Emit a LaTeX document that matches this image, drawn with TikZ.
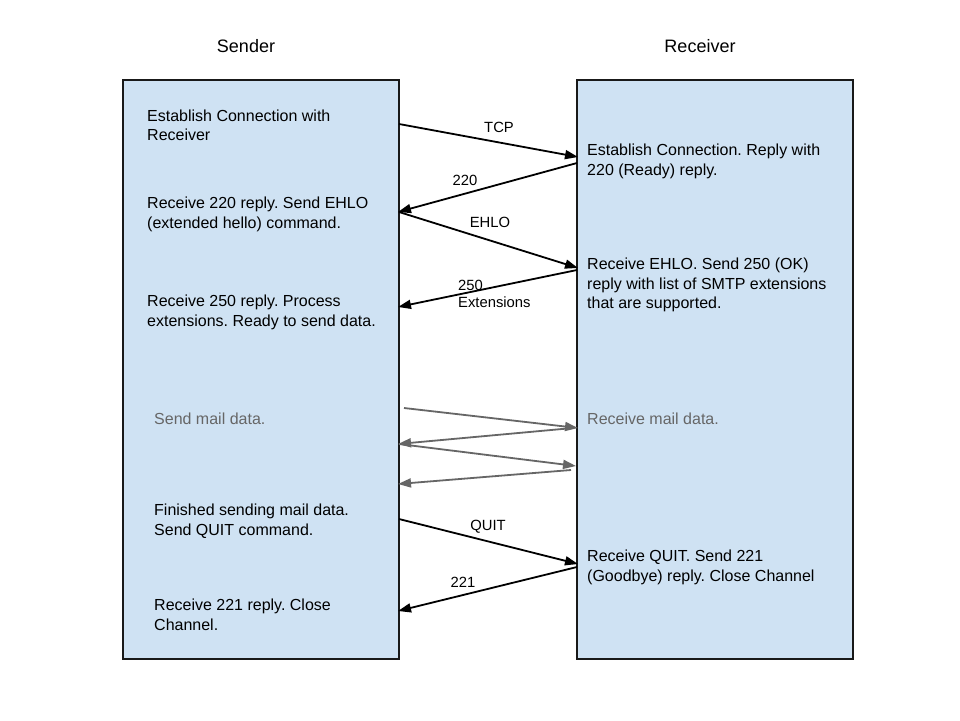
\documentclass[tikz,border=0pt]{standalone}
\usepackage{fontspec}
\setmainfont{Liberation Sans}
\usetikzlibrary{arrows.meta}
\definecolor{boxblue}{HTML}{CFE2F3}
\definecolor{msggray}{HTML}{666666}
\frenchspacing
\begin{document}
\begin{tikzpicture}[x=1pt,y=-1pt,
  lane/.style={draw=black!90, line width=1.3pt, fill=boxblue},
  txt/.style={anchor=base west, inner sep=0pt, align=left, font=\fontsize{16}{19.5}\selectfont},
  gtxt/.style={txt, text=msggray},
  title/.style={inner sep=0pt, font=\fontsize{18}{21}\selectfont},
  lbl/.style={inner sep=0pt, font=\fontsize{14.8}{17}\selectfont},
  msg/.style={line width=1.8pt, -{Triangle[length=13pt,width=9pt]}},
  gmsg/.style={line width=1.8pt, draw=msggray, -{Triangle[length=13pt,width=9pt]}}
]
\fill[white] (0,0) rectangle (960,720);
\useasboundingbox (0,0) rectangle (960,720);

\node[title] (tS) at (246,46) {Sender};
\node[title] (tR) at (700,46) {Receiver};

\draw[lane] (123,80) rectangle (399,659);
\draw[lane] (577,80) rectangle (853,659);

% sender texts (positioned at baseline of last line)
\node[txt] (s1) at (147,140.5) {Establish Connection with\\Receiver};
\node[txt] (s2) at (147,228) {Receive 220 reply. Send EHLO\\(extended hello) command.};
\node[txt] (s3) at (147,326) {Receive 250 reply. Process\\extensions. Ready to send data.};
\node[gtxt] (s4) at (154,424.5) {Send mail data.};
\node[txt] (s5) at (154,535) {Finished sending mail data.\\Send QUIT command.};
\node[txt] (s6) at (154,630) {Receive 221 reply. Close\\Channel.};

% receiver texts
\node[txt] (r1) at (587,175) {Establish Connection. Reply with\\220 (Ready) reply.};
\node[txt] (r2) at (587,308.5) {Receive EHLO. Send 250 (OK)\\reply with list of SMTP extensions\\that are supported.};
\node[gtxt] (r3) at (587,424.5) {Receive mail data.};
\node[txt] (r4) at (587,581) {Receive QUIT. Send 221\\(Goodbye) reply. Close Channel};

% arrow endpoints
\coordinate (a1s) at (399,124); \coordinate (a1e) at (578,157);
\coordinate (a2s) at (577,163); \coordinate (a2e) at (398,212);
\coordinate (a3s) at (399,212); \coordinate (a3e) at (578,268);
\coordinate (a4s) at (577,270); \coordinate (a4e) at (398,307);
\coordinate (g1s) at (404,408); \coordinate (g1e) at (578,428);
\coordinate (g2s) at (573,428); \coordinate (g2e) at (398,444);
\coordinate (g3s) at (399,444); \coordinate (g3e) at (576,466);
\coordinate (g4s) at (571,470); \coordinate (g4e) at (398,484);
\coordinate (a5s) at (399,519); \coordinate (a5e) at (578,564);
\coordinate (a6s) at (577,567); \coordinate (a6e) at (398,611);

\draw[msg] (a1s) -- (a1e);
\draw[msg] (a2s) -- (a2e);
\draw[msg] (a3s) -- (a3e);
\draw[msg] (a4s) -- (a4e);
\draw[gmsg] (g1s) -- (g1e);
\draw[gmsg] (g2s) -- (g2e);
\draw[gmsg] (g3s) -- (g3e);
\draw[gmsg] (g4s) -- (g4e);
\draw[msg] (a5s) -- (a5e);
\draw[msg] (a6s) -- (a6e);

% labels
\node[lbl] (l1) at (499,127) {TCP};
\node[lbl] (l2) at (465,180) {220};
\node[lbl] (l3) at (490,222) {EHLO};
\node[lbl, anchor=base west, align=left] (l4) at (458,307) {250\\Extensions};
\node[lbl] (l5) at (488,527) {QUIT};
\node[lbl] (l6) at (463,582) {221};
\end{tikzpicture}
\end{document}
